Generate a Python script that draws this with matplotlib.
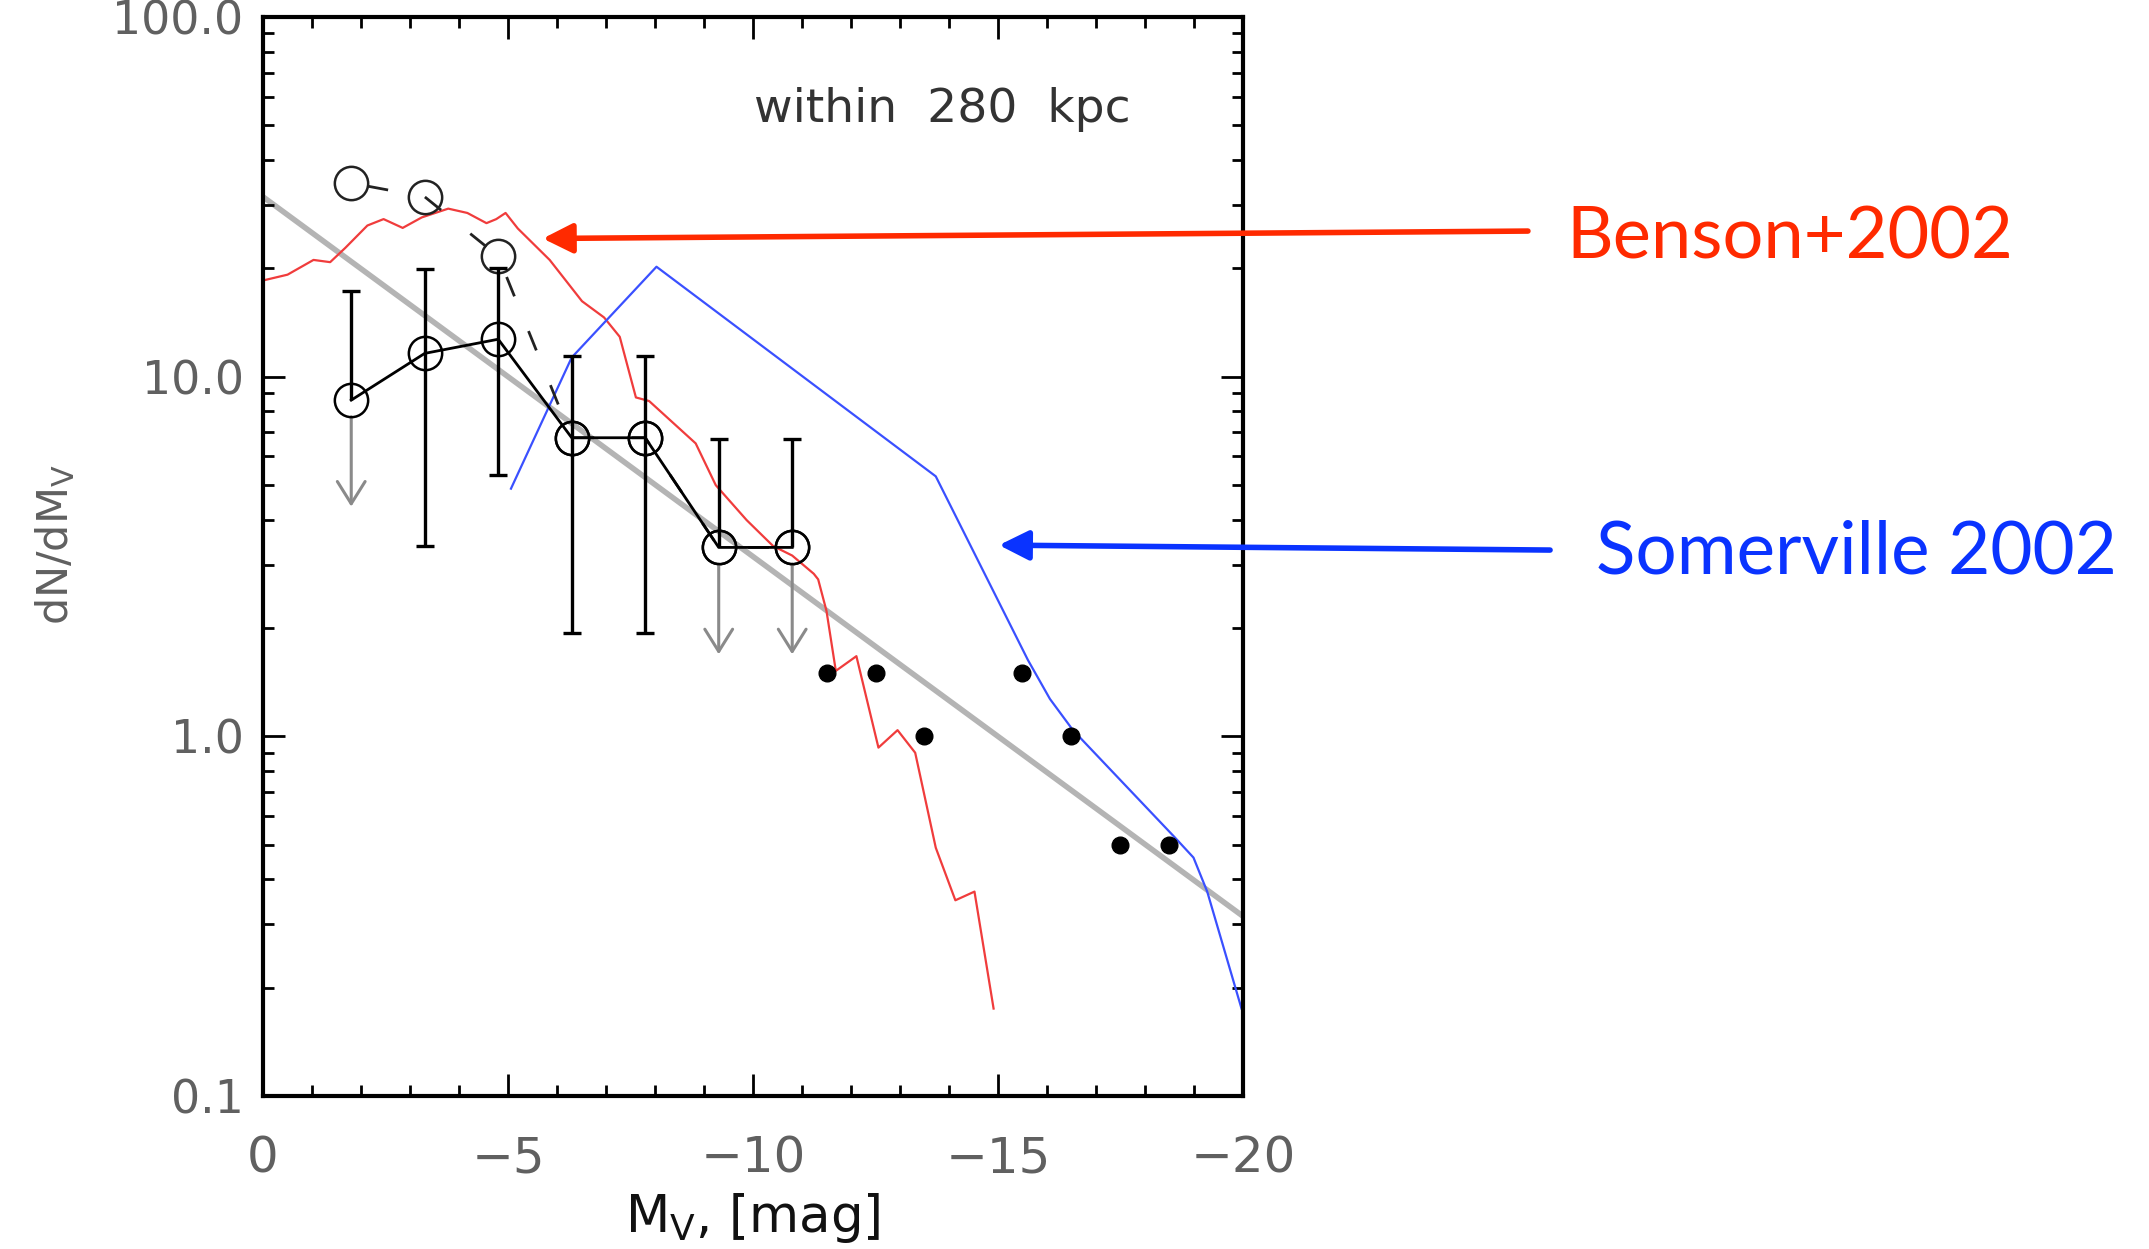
import numpy as np
import matplotlib
matplotlib.use("Agg")
from matplotlib import pyplot as plt
from matplotlib.ticker import FixedLocator, FixedFormatter, MultipleLocator, LogLocator, NullFormatter

plt.rcParams['lines.scale_dashes'] = False

# observed luminosity function (open circles)
mv_bins = [-1.8, -3.3, -4.8, -6.3, -7.8, -9.3, -10.8]
dn_obs = [8.6, 11.6, 12.7, 6.76, 6.76, 3.35, 3.35]
dn_corr = [34.5, 31.6, 21.6, 6.76, 6.76, 3.35, 3.35]
err_hi = [17.3, 19.9, 20.0, 11.4, 11.4, 6.7, 6.7]
err_lo = [np.nan, 3.37, 5.33, 1.94, 1.94, np.nan, np.nan]

# upper limits (down arrows)
lim_x = [-1.8, -9.3, -10.8]
lim_from = [8.6, 3.35, 3.35]
lim_to = [4.35, 1.69, 1.69]

# bright classical satellites
bright_mv = [-11.5, -12.5, -13.5, -15.5, -16.5, -17.5, -18.5]
bright_dn = [1.5, 1.5, 1.0, 1.5, 1.0, 0.5, 0.5]

# power law
fit_mv = [0, -20]
fit_dn = [31.6, 0.316]

# Benson+2002 model
benson_mv = [0, -0.5, -1.03, -1.37, -1.68, -2.13, -2.46, -2.85, -3.24, -3.78, -4.17,
             -4.56, -4.76, -4.95, -5.2, -5.85, -6.51, -6.96, -7.28, -7.61, -7.88,
             -8.83, -9.24, -9.87, -10.41, -10.8, -11.24, -11.33, -11.5, -11.69,
             -12.11, -12.56, -12.95, -13.31, -13.73, -14.13, -14.52, -14.91]
benson_dn = [18.5, 19.2, 21.1, 20.8, 22.8, 26.3, 27.4, 25.9, 27.7, 29.3, 28.5,
             26.7, 27.4, 28.5, 25.8, 21.1, 16.2, 14.6, 12.9, 8.75, 8.55,
             6.52, 4.99, 3.99, 3.38, 3.18, 2.83, 2.73, 2.23, 1.52,
             1.67, 0.93, 1.04, 0.90, 0.49, 0.35, 0.37, 0.175]

# Somerville 2002 model
somer_mv = [-5.06, -6.3, -8.03, -13.73, -15.61, -16.06, -16.53, -18.6, -18.99, -19.27, -19.97]
somer_dn = [4.88, 11.3, 20.2, 5.28, 1.63, 1.27, 1.04, 0.525, 0.46, 0.37, 0.175]

tick_gray = '#606060'

fig = plt.figure(figsize=(21.49, 12.49), dpi=100)
ax = fig.add_axes([0.1224, 0.1225, 0.456, 0.864])

ax.plot(fit_mv, fit_dn, color='#b4b4b4', lw=4, zorder=1)
ax.plot(benson_mv, benson_dn, color='#f03c3c', lw=1.6, zorder=2)
ax.plot(somer_mv, somer_dn, color='#3a50ff', lw=1.6, zorder=2)

# dashed (corrected) points
ax.plot(mv_bins, dn_corr, color='#222222', lw=2, linestyle=(30, (15, 27)),
        marker='o', ms=24, mfc='none', mec='#222222', mew=1.8, zorder=3)

# error bars
for x, lo, hi, y in zip(mv_bins, err_lo, err_hi, dn_obs):
    bottom = y if np.isnan(lo) else lo
    ax.vlines(x, bottom, hi, color='black', lw=2.4, zorder=4)
    ax.plot([x], [hi], marker='_', ms=13, mew=2.4, color='black', zorder=4)
    if not np.isnan(lo):
        ax.plot([x], [lo], marker='_', ms=13, mew=2.4, color='black', zorder=4)

for x, y0, y1 in zip(lim_x, lim_from, lim_to):
    ax.annotate('', xy=(x, y1), xytext=(x, y0),
                arrowprops=dict(arrowstyle='->,head_length=0.8,head_width=0.5',
                                color='#8a8a8a', lw=2.2, shrinkA=12, shrinkB=0,
                                mutation_scale=20), zorder=3)

ax.plot(mv_bins, dn_obs, color='black', lw=2, marker='o', ms=24,
        mfc='none', mec='black', mew=1.8, zorder=5)

ax.plot(bright_mv, bright_dn, 'o', color='black', ms=12, zorder=5)

ax.set_yscale('log')
ax.set_xlim(0, -20)
ax.set_ylim(0.1, 100)

ax.yaxis.set_major_locator(FixedLocator([0.1, 1, 10, 100]))
ax.yaxis.set_major_formatter(FixedFormatter(['0.1', '1.0', '10.0', '100.0']))
ax.yaxis.set_minor_locator(LogLocator(base=10, subs=np.arange(2, 10)))
ax.yaxis.set_minor_formatter(NullFormatter())
ax.xaxis.set_major_locator(MultipleLocator(5))
ax.xaxis.set_minor_locator(MultipleLocator(1))
ax.set_xticks([0, -5, -10, -15, -20])
ax.set_xticklabels(['0', '\u22125', '\u221210', '\u221215', '\u221220'])

ax.tick_params(which='both', direction='in', top=True, right=True, width=2, color='black')
ax.tick_params(which='major', length=16)
ax.tick_params(which='minor', length=8)
ax.tick_params(axis='y', labelsize=33, labelcolor=tick_gray, pad=14)
ax.tick_params(axis='x', labelsize=36, labelcolor=tick_gray, pad=28)
for s in ax.spines.values():
    s.set_linewidth(3)

ax.set_xlabel('M$_{\\rm V}$, [mag]', fontsize=37, color='#111111', labelpad=6)
ax.set_ylabel('dN/dM$_{\\rm V}$', fontsize=31, color=tick_gray)
ax.yaxis.set_label_coords(-0.19, 0.511)

ax.text(0.501, 0.914, 'within  280  kpc', transform=ax.transAxes, fontsize=34,
        color='#333333', ha='left', va='center')

red = '#ff2a00'
blue = '#0a33ff'
ax.annotate('', xy=(-5.71, 24.2), xycoords='data', xytext=(0.711, 0.815), textcoords='figure fraction',
            arrowprops=dict(arrowstyle='-|>,head_length=0.9,head_width=0.45', color=red, lw=4,
                            shrinkA=0, shrinkB=0, mutation_scale=20))
ax.annotate('', xy=(-15.02, 3.40), xycoords='data', xytext=(0.7213, 0.5596), textcoords='figure fraction',
            arrowprops=dict(arrowstyle='-|>,head_length=0.9,head_width=0.45', color=blue, lw=4,
                            shrinkA=0, shrinkB=0, mutation_scale=20))

fig.text(0.7290, 0.7934, 'Benson+2002', color=red, fontsize=52, family='Lato', va='baseline')
fig.text(0.7425, 0.5412, 'Somerville 2002', color=blue, fontsize=52.5, family='Lato', va='baseline')

fig.savefig('out.png', dpi=100)
